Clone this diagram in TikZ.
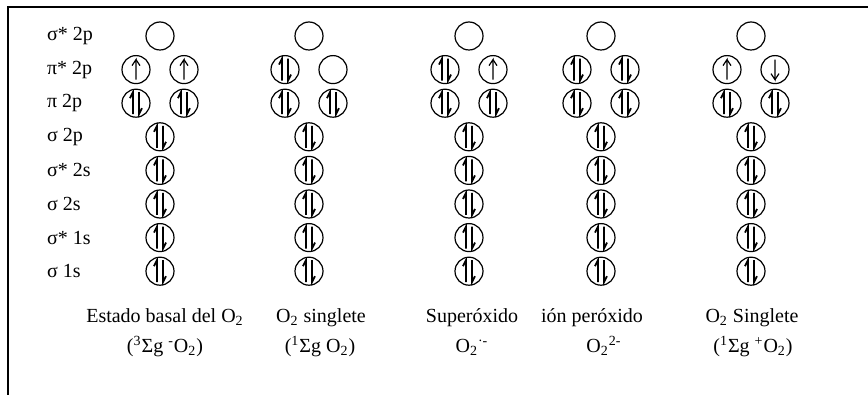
\documentclass[tikz,border=0pt]{standalone}
\usepackage{fontspec}
\setmainfont{Liberation Serif}

\begin{document}
\begin{tikzpicture}[
  x=0.5pt, y=-0.5pt,
  orb/.style={circle, draw, line width=0.6pt, minimum size=14pt, inner sep=0pt},
  spin/.style={line width=0.9pt, line join=miter},
  paired/.style={orb, path picture={
      \draw[spin] ([shift={(-3,11)}]path picture bounding box.center) -- ++(0,-22) -- ++(-3,6);
      \draw[spin] ([shift={(3,-11)}]path picture bounding box.center) -- ++(0,22) -- ++(3,-6);}},
  spinup/.style={orb, path picture={
      \draw[line width=0.6pt] ([shift={(0,10)}]path picture bounding box.center) -- ++(0,-20) -- ++(-4,6);
      \draw[line width=0.6pt] ([shift={(0,-10)}]path picture bounding box.center) -- ++(4,6);}},
  spindown/.style={orb, path picture={
      \draw[line width=0.6pt] ([shift={(0,-10)}]path picture bounding box.center) -- ++(0,20) -- ++(-4,-6);
      \draw[line width=0.6pt] ([shift={(0,10)}]path picture bounding box.center) -- ++(4,-6);}},
  level/.style={anchor=west, font=\fontsize{10}{12}\selectfont},
  caption/.style={anchor=base, font=\fontsize{10}{12}\selectfont},
]
  \useasboundingbox (0,0) rectangle (868,395);
  % frame
  \draw[line width=0.6pt] (8,395) -- (8,7) -- (868,7);

  % Level labels
  \node[level] (l-sa2p) at (40,36)    {σ* 2p};
  \node[level] (l-pa2p) at (40,69.6)  {π* 2p};
  \node[level] (l-p2p)  at (40,103.2) {π 2p};
  \node[level] (l-s2p)  at (40,136.8) {σ 2p};
  \node[level] (l-sa2s) at (40,170.4) {σ* 2s};
  \node[level] (l-s2s)  at (40,204)   {σ 2s};
  \node[level] (l-sa1s) at (40,237.6) {σ* 1s};
  \node[level] (l-s1s)  at (40,271.2) {σ 1s};

  % Lower levels, all paired
  \foreach \col/\x in {1/160, 2/309, 3/469, 4/601, 5/751}
    \foreach \lev/\y in {s2p/136.8, sa2s/170.4, s2s/204, sa1s/237.6, s1s/271.2}
      \node[paired] (\lev-\col) at (\x,\y) {};

  % Column 1: ground state
  \node[orb]    (sa2p-1)  at (160,36)   {};
  \node[spinup] (pa2pa-1) at (136,69.6) {};
  \node[spinup] (pa2pb-1) at (184,69.6) {};
  \node[paired] (p2pa-1)  at (136,103.2) {};
  \node[paired] (p2pb-1)  at (184,103.2) {};

  % Column 2: singlet
  \node[orb]    (sa2p-2)  at (309,36)   {};
  \node[paired] (pa2pa-2) at (285,69.6) {};
  \node[orb]    (pa2pb-2) at (333,69.6) {};
  \node[paired] (p2pa-2)  at (285,103.2) {};
  \node[paired] (p2pb-2)  at (333,103.2) {};

  % Column 3: superoxide
  \node[orb]    (sa2p-3)  at (469,36)   {};
  \node[paired] (pa2pa-3) at (445,69.6) {};
  \node[spinup] (pa2pb-3) at (493,69.6) {};
  \node[paired] (p2pa-3)  at (445,103.2) {};
  \node[paired] (p2pb-3)  at (493,103.2) {};

  % Column 4: peroxide
  \node[orb]    (sa2p-4)  at (601,36)   {};
  \node[paired] (pa2pa-4) at (577,69.6) {};
  \node[paired] (pa2pb-4) at (625,69.6) {};
  \node[paired] (p2pa-4)  at (577,103.2) {};
  \node[paired] (p2pb-4)  at (625,103.2) {};

  % Column 5: singlet (+)
  \node[orb]      (sa2p-5)  at (751,36)   {};
  \node[spinup]   (pa2pa-5) at (727,69.6) {};
  \node[spindown] (pa2pb-5) at (775,69.6) {};
  \node[paired]   (p2pa-5)  at (727,103.2) {};
  \node[paired]   (p2pb-5)  at (775,103.2) {};

  % Captions
  \node[caption] (cap-1a) at (165,323) {Estado basal del O\textsubscript{2}};
  \node[caption] (cap-1b) at (165,353) {(\textsuperscript{3}Σg \textsuperscript{-}O\textsubscript{2})};
  \node[caption] (cap-2a) at (321,323) {O\textsubscript{2} singlete};
  \node[caption] (cap-2b) at (320,353) {(\textsuperscript{1}Σg O\textsubscript{2})};
  \node[caption] (cap-3a) at (472,323) {Superóxido};
  \node[caption] (cap-3b) at (472,353) {O\textsubscript{2}\textsuperscript{·-}};
  \node[caption] (cap-4a) at (592,323) {ión peróxido};
  \node[caption] (cap-4b) at (604,353) {O\textsubscript{2}\textsuperscript{2-}};
  \node[caption] (cap-5a) at (752,323) {O\textsubscript{2} Singlete};
  \node[caption] (cap-5b) at (753,353) {(\textsuperscript{1}Σg \textsuperscript{+}O\textsubscript{2})};
\end{tikzpicture}
\end{document}
